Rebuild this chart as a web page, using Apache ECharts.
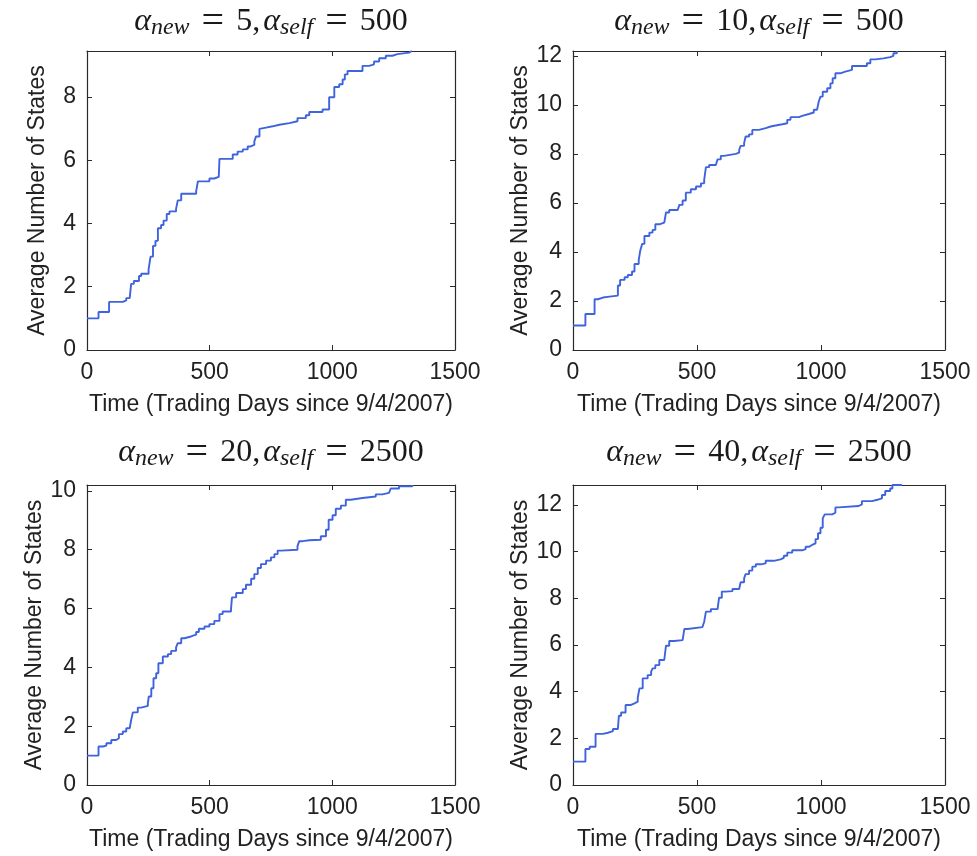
<!DOCTYPE html>
<html>
<head>
<meta charset="utf-8">
<script src="https://cdn.jsdelivr.net/npm/echarts@6/dist/echarts.min.js"></script>
<style>
  html, body { margin: 0; padding: 0; background: #fff; }
  #chart { width: 977px; height: 856px; }
</style>
</head>
<body>
<div id="chart"></div>
<script>
// Step curves: each value holds from its day until the next day in the list.
const days1 = [0, 47, 90, 146, 160, 174, 180, 191, 212, 221, 251, 259, 269, 279, 289, 302, 312, 325, 336, 363, 370, 384, 445, 452, 499, 519, 537, 540, 594, 614, 635, 655, 665, 682, 689, 703, 709, 730, 757, 784, 825, 858, 892, 906, 960, 987, 1008, 1028, 1042, 1051, 1062, 1123, 1150, 1170, 1191, 1218, 1245, 1265, 1313, 1324];
const states1 = [1.0, 1.2, 1.52, 1.57, 1.64, 1.68, 2.09, 2.18, 2.34, 2.41, 2.55, 2.95, 3.29, 3.45, 3.85, 3.95, 4.09, 4.30, 4.38, 4.46, 4.73, 4.94, 5.02, 5.33, 5.42, 5.47, 5.53, 6.04, 6.18, 6.27, 6.34, 6.43, 6.48, 6.59, 6.75, 6.99, 7.03, 7.07, 7.12, 7.17, 7.23, 7.33, 7.42, 7.52, 7.60, 7.99, 8.31, 8.40, 8.55, 8.71, 8.82, 8.98, 9.03, 9.12, 9.22, 9.30, 9.35, 9.40, 9.45, 9.45];

const days2 = [0, 50, 87, 100, 121, 147, 181, 190, 208, 221, 238, 248, 265, 271, 279, 288, 308, 321, 332, 348, 368, 375, 388, 422, 429, 442, 455, 475, 496, 516, 529, 536, 549, 576, 583, 596, 609, 656, 670, 676, 690, 696, 710, 723, 750, 777, 797, 817, 844, 864, 877, 911, 924, 951, 971, 984, 991, 998, 1007, 1025, 1038, 1047, 1058, 1078, 1098, 1125, 1185, 1199, 1219, 1252, 1279, 1292, 1306];
const states2 = [1.0, 1.47, 2.07, 2.14, 2.18, 2.22, 2.63, 2.86, 2.97, 3.06, 3.20, 3.51, 3.67, 4.05, 4.33, 4.65, 4.79, 4.90, 5.13, 5.20, 5.28, 5.61, 5.71, 5.78, 5.92, 6.10, 6.42, 6.56, 6.67, 6.80, 6.94, 7.46, 7.55, 7.62, 7.78, 7.92, 8.00, 8.05, 8.16, 8.33, 8.44, 8.71, 8.80, 8.98, 9.05, 9.12, 9.16, 9.21, 9.25, 9.39, 9.50, 9.55, 9.63, 9.69, 9.80, 9.86, 10.14, 10.34, 10.54, 10.68, 10.88, 11.09, 11.29, 11.36, 11.43, 11.59, 11.70, 11.86, 11.90, 11.95, 12.0, 12.11, 12.2];

const days3 = [0, 47, 65, 79, 99, 119, 130, 146, 160, 174, 180, 187, 207, 221, 248, 252, 262, 271, 282, 291, 309, 330, 343, 363, 370, 384, 397, 424, 445, 456, 479, 499, 519, 540, 553, 587, 591, 608, 635, 648, 669, 682, 696, 709, 730, 750, 764, 777, 791, 858, 865, 879, 906, 953, 974, 985, 1001, 1014, 1035, 1055, 1075, 1123, 1177, 1204, 1231, 1238, 1272, 1326];
const states3 = [1.0, 1.31, 1.34, 1.42, 1.53, 1.59, 1.73, 1.82, 1.93, 1.99, 2.21, 2.47, 2.63, 2.69, 2.78, 3.01, 3.29, 3.63, 3.80, 4.14, 4.37, 4.45, 4.56, 4.68, 4.82, 4.99, 5.05, 5.11, 5.20, 5.31, 5.39, 5.47, 5.58, 5.81, 5.90, 5.99, 6.38, 6.53, 6.66, 6.81, 7.01, 7.17, 7.38, 7.51, 7.63, 7.74, 7.85, 7.97, 8.00, 8.12, 8.29, 8.32, 8.34, 8.46, 8.68, 9.02, 9.17, 9.39, 9.50, 9.70, 9.76, 9.81, 9.88, 9.93, 9.97, 10.08, 10.16, 10.2];

const days4 = [0, 50, 67, 91, 121, 141, 161, 181, 185, 194, 212, 234, 248, 261, 268, 281, 301, 315, 321, 332, 348, 368, 375, 388, 408, 442, 449, 462, 522, 529, 536, 556, 583, 589, 600, 616, 643, 670, 676, 690, 696, 710, 723, 737, 757, 777, 810, 837, 850, 864, 884, 924, 938, 951, 964, 978, 988, 998, 1007, 1015, 1045, 1058, 1071, 1152, 1165, 1205, 1232, 1246, 1259, 1279, 1288, 1326];
const states4 = [1.0, 1.54, 1.64, 2.19, 2.24, 2.31, 2.40, 2.46, 2.97, 3.11, 3.43, 3.50, 3.57, 3.74, 4.14, 4.57, 4.71, 4.86, 5.00, 5.14, 5.36, 5.43, 5.97, 6.17, 6.21, 6.29, 6.69, 6.77, 6.83, 7.00, 7.43, 7.54, 7.60, 8.03, 8.29, 8.31, 8.40, 8.46, 8.69, 8.86, 9.04, 9.19, 9.36, 9.46, 9.50, 9.61, 9.67, 9.74, 9.83, 9.96, 10.06, 10.11, 10.21, 10.29, 10.36, 10.54, 10.79, 11.03, 11.43, 11.60, 11.67, 11.90, 11.96, 12.03, 12.17, 12.24, 12.29, 12.43, 12.60, 12.71, 12.86, 12.86];

// Panel parameters
const alphaNew = [5, 10, 20, 40];
const alphaSelf = [500, 500, 2500, 2500];
const yMax = [9.45, 12.2, 10.2, 12.86];
const xMin = 0, xMax = 1500, xStep = 500;
const yStep = 2;
const xAxisTitle = 'Time (Trading Days since 9/4/2007)';
const yAxisTitle = 'Average Number of States';

const allDays = [days1, days2, days3, days4];
const allStates = [states1, states2, states3, states4];

const panels = [
  { left: 87,  top: 51,  width: 368, height: 299, titleY: 4 },
  { left: 573, top: 51,  width: 372, height: 299, titleY: 4 },
  { left: 87,  top: 485, width: 368, height: 300, titleY: 435 },
  { left: 573, top: 485, width: 372, height: 300, titleY: 435 }
];

const sans = 'Liberation Sans, Arial, Helvetica, sans-serif';
const serif = 'Liberation Serif, Times New Roman, serif';
const inkColor = '#222';
const titleColor = '#1a1a1a';
const frameColor = '#2a2a2a';
const curveColor = '#3f63dc';
const labelSize = 23;

const frameLine = { show: true, onZero: false, lineStyle: { color: frameColor, width: 1.2 } };
const innerTicks = { show: true, inside: true, length: 5, lineStyle: { color: frameColor, width: 1 } };

// math-style title pieces
const titleRich = {
  a: { fontFamily: serif, fontStyle: 'italic', fontWeight: 'normal', fontSize: 32, lineHeight: 36, color: titleColor },
  s: { fontFamily: serif, fontStyle: 'italic', fontWeight: 'normal', fontSize: 24, lineHeight: 22, verticalAlign: 'bottom', color: titleColor },
  e: { fontFamily: serif, fontWeight: 'normal', fontSize: 40, lineHeight: 36, padding: [0, 12, 0, 12], color: titleColor },
  r: { fontFamily: serif, fontWeight: 'normal', fontSize: 32, lineHeight: 36, color: titleColor },
  c: { fontFamily: serif, fontWeight: 'normal', fontSize: 32, lineHeight: 36, padding: [0, 3, 0, 0], color: titleColor }
};

const grid = [], xAxis = [], yAxis = [], series = [], title = [];

panels.forEach((p, g) => {
  grid.push({ left: p.left, top: p.top, width: p.width, height: p.height, containLabel: false });

  // bottom and top x axes
  xAxis.push({
    type: 'value', gridIndex: g, position: 'bottom', min: xMin, max: xMax, interval: xStep,
    axisLine: frameLine, axisTick: innerTicks, splitLine: { show: false },
    axisLabel: { color: inkColor, fontFamily: sans, fontSize: labelSize, margin: 11, formatter: v => String(v) },
    name: xAxisTitle, nameLocation: 'middle', nameGap: 43,
    nameTextStyle: { color: inkColor, fontFamily: sans, fontSize: labelSize }
  });
  xAxis.push({
    type: 'value', gridIndex: g, position: 'top', min: xMin, max: xMax, interval: xStep,
    axisLine: frameLine, axisTick: innerTicks, splitLine: { show: false },
    axisLabel: { show: false }
  });

  // left and right y axes
  const yFmt = v => (Math.abs(v / yStep - Math.round(v / yStep)) < 1e-9 ? String(v) : '');
  yAxis.push({
    type: 'value', gridIndex: g, position: 'left', min: 0, max: yMax[g], interval: yStep,
    axisLine: frameLine, axisTick: innerTicks, splitLine: { show: false },
    axisLabel: { color: inkColor, fontFamily: sans, fontSize: labelSize, margin: 11, formatter: yFmt, showMaxLabel: false },
    name: yAxisTitle, nameLocation: 'middle', nameGap: 38,
    nameTextStyle: { color: inkColor, fontFamily: sans, fontSize: labelSize }
  });
  yAxis.push({
    type: 'value', gridIndex: g, position: 'right', min: 0, max: yMax[g], interval: yStep,
    axisLine: frameLine, axisTick: innerTicks, splitLine: { show: false },
    axisLabel: { show: false }
  });

  series.push({
    type: 'line', step: 'end', xAxisIndex: 2 * g, yAxisIndex: 2 * g,
    showSymbol: false, silent: true, animation: false,
    lineStyle: { color: curveColor, width: 1.9 },
    data: allDays[g].map((d, i) => [d, allStates[g][i]])
  });

  title.push({
    text: '{a|α}{s|new}{e|=}{r|' + alphaNew[g] + '}{c|,}{a|α}{s|self}{e|=}{r|' + alphaSelf[g] + '}',
    left: p.left + p.width / 2, top: p.titleY, textAlign: 'center', padding: 0,
    textStyle: { fontWeight: 'normal', rich: titleRich }
  });
});

const chart = echarts.init(document.getElementById('chart'), null, { renderer: 'canvas' });
chart.setOption({
  backgroundColor: '#fff',
  animation: false,
  title, grid, xAxis, yAxis, series
});
</script>
</body>
</html>
